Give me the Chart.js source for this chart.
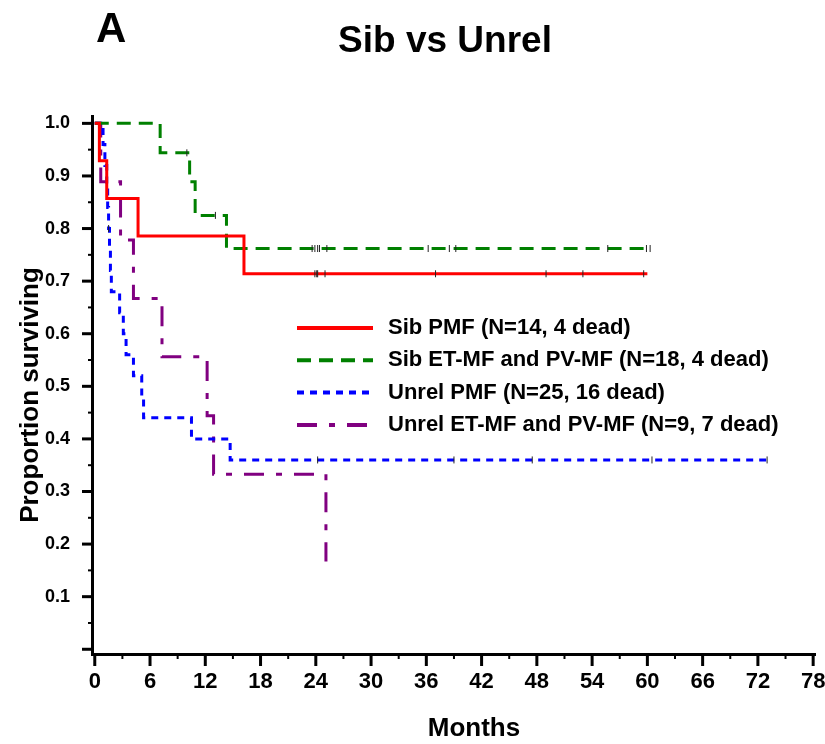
<!doctype html>
<html lang="en">
<head>
<meta charset="utf-8">
<title>Sib vs Unrel</title>
<script src="https://cdn.jsdelivr.net/npm/chart.js@4.4.0/dist/chart.umd.min.js"></script>
<style>
  html, body { margin: 0; padding: 0; background: #fff; }
  canvas { display: block; }
</style>
</head>
<body>
<canvas id="km" width="825" height="744"></canvas>
<script>
// Kaplan-Meier steps: months at each step, survival after it
const sibPmfMonths   = [0, 0.5, 1.3, 4.7, 16.2, 60.0];
const sibPmfSurv     = [1, 0.929, 0.857, 0.786, 0.714, 0.714];
const sibEtMonths    = [0, 7.1, 10.3, 10.9, 14.3, 60.3];
const sibEtSurv      = [1, 0.944, 0.889, 0.825, 0.762, 0.762];
const unrelPmfMonths = [0, 0.9, 1.1, 1.3, 1.4, 1.5, 1.6, 1.7, 1.8, 2.7, 3.1, 3.4, 4.2, 5.1, 5.3, 10.5, 14.7, 73.0];
const unrelPmfSurv   = [1, 0.96, 0.92, 0.88, 0.84, 0.80, 0.76, 0.72, 0.68, 0.64, 0.60, 0.56, 0.52, 0.48, 0.44, 0.40, 0.36, 0.36];
const unrelEtMonths  = [0, 0.65, 2.8, 4.2, 7.3, 12.2, 12.9, 25.1];
const unrelEtSurv    = [1, 0.889, 0.778, 0.667, 0.556, 0.444, 0.333, 0.167];

// censored observations (months)
const sibPmfCensor   = [23.9, 24.1, 24.2, 25.0, 37.0, 49.0, 53.0, 59.6];
const sibEtCensor    = [10.0, 13.1, 23.6, 23.9, 24.2, 24.4, 25.2, 36.2, 38.5, 39.2, 55.7, 59.9, 60.3];
const unrelPmfCensor = [1.5, 24.2, 39.0, 47.5, 60.5, 73.0];

const seriesLabels = [
  'Sib PMF (N=14, 4 dead)',
  'Sib ET-MF and PV-MF (N=18, 4 dead)',
  'Unrel PMF (N=25, 16 dead)',
  'Unrel ET-MF and PV-MF (N=9, 7 dead)'
];

const xTicks = [0, 6, 12, 18, 24, 30, 36, 42, 48, 54, 60, 66, 72, 78];
const yTicks = [0.1, 0.2, 0.3, 0.4, 0.5, 0.6, 0.7, 0.8, 0.9, 1.0];

const FONT = "'Liberation Sans', Arial, sans-serif";

function toPoints(months, surv) {
  return months.map((m, i) => ({ x: m, y: surv[i] }));
}
function survAt(months, surv, t) {
  let s = surv[0];
  for (let i = 0; i < months.length; i++) if (months[i] <= t) s = surv[i];
  return s;
}
function censorPoints(c, months, surv) {
  return c.map(t => ({ x: t, y: survAt(months, surv, t) }));
}

function curve(label, pts, color, dash) {
  return {
    label: label, data: pts, stepped: true,
    borderColor: color, borderWidth: 3, borderDash: dash,
    pointRadius: 0, fill: false, isCurve: true
  };
}
function ticks(pts) {
  return {
    label: 'censored', data: pts, showLine: false,
    pointStyle: 'line', rotation: 90, pointRadius: 3.5,
    pointBorderColor: '#222', pointBorderWidth: 1, isCurve: false
  };
}

const data = {
  datasets: [
    ticks(censorPoints(sibPmfCensor, sibPmfMonths, sibPmfSurv)),
    ticks(censorPoints(sibEtCensor, sibEtMonths, sibEtSurv)),
    ticks(censorPoints(unrelPmfCensor, unrelPmfMonths, unrelPmfSurv)),
    curve(seriesLabels[0], toPoints(sibPmfMonths, sibPmfSurv), '#ff0000', []),
    curve(seriesLabels[1], toPoints(sibEtMonths, sibEtSurv), '#008000', [14, 8]),
    curve(seriesLabels[2], toPoints(unrelPmfMonths, unrelPmfSurv), '#0000ff', [7, 6]),
    curve(seriesLabels[3], toPoints(unrelEtMonths, unrelEtSurv), '#800080', [20, 12, 6, 12])
  ]
};

// ticks, titles and the in-plot legend
const extras = {
  id: 'extras',
  afterDraw(chart) {
    const ctx = chart.ctx;
    const xs = chart.scales.x, ys = chart.scales.y;
    const area = chart.chartArea;
    ctx.save();
    ctx.strokeStyle = '#000';

    // y tick marks, major every 0.1, minor every 0.05
    for (let k = 0; k <= 20; k++) {
      const py = ys.getPixelForValue(k * 0.05);
      const major = k % 2 === 0;
      ctx.lineWidth = major ? 3 : 2;
      ctx.beginPath();
      ctx.moveTo(area.left - (major ? 10 : 4), py);
      ctx.lineTo(area.left, py);
      ctx.stroke();
    }
    // x tick marks, major every 6, minor every 3
    for (let k = 0; k <= 26; k++) {
      const px = xs.getPixelForValue(k * 3);
      const major = k % 2 === 0;
      ctx.lineWidth = major ? 3 : 2;
      ctx.beginPath();
      ctx.moveTo(px, area.bottom);
      ctx.lineTo(px, area.bottom + (major ? 12 : 5));
      ctx.stroke();
    }

    ctx.fillStyle = '#000';
    ctx.textBaseline = 'alphabetic';
    ctx.font = 'bold 42px ' + FONT;
    ctx.textAlign = 'left';
    ctx.fillText('A', 96, 42);
    ctx.font = 'bold 37px ' + FONT;
    ctx.textAlign = 'center';
    ctx.fillText('Sib vs Unrel', 445, 52);
    ctx.font = 'bold 26px ' + FONT;
    ctx.fillText('Months', 474, 736);
    ctx.save();
    ctx.translate(38, 395);
    ctx.rotate(-Math.PI / 2);
    ctx.fillText('Proportion surviving', 0, 0);
    ctx.restore();

    // legend
    const curves = chart.data.datasets.filter(d => d.isCurve);
    ctx.font = 'bold 22px ' + FONT;
    ctx.textAlign = 'left';
    ctx.textBaseline = 'middle';
    curves.forEach((d, i) => {
      const ly = 328 + i * 32.3;
      ctx.strokeStyle = d.borderColor;
      ctx.lineWidth = 4;
      ctx.setLineDash(d.borderDash);
      ctx.beginPath();
      ctx.moveTo(297, ly);
      ctx.lineTo(373, ly);
      ctx.stroke();
      ctx.setLineDash([]);
      ctx.fillStyle = '#000';
      ctx.fillText(d.label, 388, ly);
    });
    ctx.restore();
  }
};

new Chart(document.getElementById('km'), {
  type: 'line',
  data: data,
  plugins: [extras],
  options: {
    responsive: false,
    animation: false,
    layout: { padding: { top: 116, right: 10, left: 0, bottom: 0 } },
    plugins: { legend: { display: false }, tooltip: { enabled: false }, title: { display: false } },
    scales: {
      x: {
        type: 'linear', min: -0.3, max: 78.2,
        afterBuildTicks: s => { s.ticks = xTicks.map(v => ({ value: v })); },
        afterFit: s => { s.height = 90; s.paddingLeft = 0; s.paddingRight = 0; },
        grid: { display: false, drawTicks: false },
        border: { display: true, color: '#000', width: 3 },
        ticks: {
          autoSkip: false, maxRotation: 0, padding: 15, color: '#000',
          font: { family: FONT, weight: 'bold', size: 22 }
        }
      },
      y: {
        type: 'linear', min: -0.009, max: 1.014,
        afterBuildTicks: s => { s.ticks = yTicks.map(v => ({ value: v })); },
        afterFit: s => { s.width = 92; s.paddingTop = 0; s.paddingBottom = 0; },
        grid: { display: false, drawTicks: false },
        border: { display: true, color: '#000', width: 3 },
        ticks: {
          padding: 22, color: '#000',
          callback: v => v.toFixed(1),
          font: { family: FONT, weight: 'bold', size: 18 }
        }
      }
    }
  }
});
</script>
</body>
</html>
